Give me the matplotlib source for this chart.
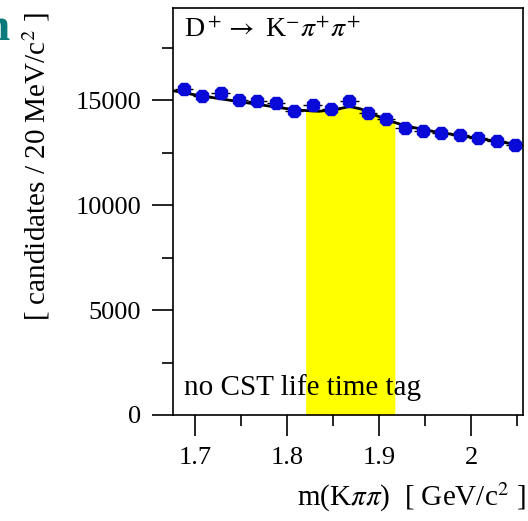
import numpy as np
import matplotlib
matplotlib.use('Agg')
import matplotlib.pyplot as plt

plt.rcParams['font.family'] = ['Liberation Serif', 'DejaVu Serif']
plt.rcParams['mathtext.fontset'] = 'stix'

# bin centres [GeV/c^2] and candidates per 20 MeV/c^2
mass = [1.6875, 1.7075, 1.7275, 1.7475, 1.7675, 1.7875, 1.8075, 1.8275, 1.8475, 1.8675,
        1.8875, 1.9075, 1.9275, 1.9475, 1.9675, 1.9875, 2.0075, 2.0275, 2.0475]
counts = [15530, 15210, 15320, 15030, 14970, 14880, 14490, 14760, 14570, 14950,
          14410, 14120, 13680, 13520, 13450, 13330, 13200, 13040, 12880]
err = [125, 123, 124, 123, 122, 122, 120, 121, 121, 122,
       120, 119, 117, 116, 116, 115, 115, 114, 114]

# fit curve
fit_x = [1.676, 1.70, 1.74, 1.78, 1.81, 1.835, 1.855, 1.868, 1.88, 1.895,
         1.91, 1.93, 1.96, 2.0, 2.03, 2.056]
fit_y = [15450, 15250, 14980, 14720, 14530, 14470, 14580, 14700, 14580, 14300,
         14030, 13760, 13500, 13230, 13020, 12850]

# signal window
win_lo, win_hi = 1.82, 1.917

fig = plt.figure(figsize=(5.28, 5.21), dpi=100)
ax = fig.add_axes([0.328, 0.2035, 0.662, 0.7815])

fx = np.linspace(win_lo, win_hi, 60)
ax.fill_between(fx, 0, np.interp(fx, fit_x, fit_y), color='#ffff00', lw=0, zorder=1)
ax.plot(fit_x, fit_y, color='black', lw=2, zorder=2)
ax.errorbar(mass, counts, xerr=0.01, yerr=err, fmt='8', color='#0a0ad8', ms=10,
            mec='#0a0ad8', ecolor='black', elinewidth=1, capsize=0, zorder=3)

ax.set_xlim(1.676, 2.056)
ax.set_ylim(0, 19400)
ax.set_xticks([1.7, 1.8, 1.9, 2.0])
ax.set_xticklabels(['1.7', '1.8', '1.9', '2'])
ax.set_xticks([1.75, 1.85, 1.95, 2.05], minor=True)
ax.set_yticks([0, 5000, 10000, 15000])
ax.set_yticks([2500, 7500, 12500, 17500], minor=True)
ax.tick_params(which='major', direction='out', length=15, width=1.2, labelsize=19, pad=8)
ax.tick_params(which='minor', direction='out', length=8, width=1.2)
for s in ax.spines.values():
    s.set_linewidth(1.2)

ax.text(0.03, 0.975, r'D$^+\rightarrow$ K$^{-}\pi^{+}\pi^{+}$', transform=ax.transAxes,
        fontsize=20, va='top', ha='left')
ax.text(0.03, 0.035, 'no CST life time tag', transform=ax.transAxes,
        fontsize=21, va='bottom', ha='left')

fig.text(0.068, 0.68, r'[ candidates / 20 MeV/c$^2$ ]', rotation=90,
         fontsize=21, ha='center', va='center')
fig.text(0.995, 0.045, r'm(K$\pi\pi$)  [ GeV/c$^2$ ]', fontsize=21,
         ha='right', va='center')
fig.text(-0.03, 0.945, 'n', fontsize=34, color='#0a7a7a', fontweight='bold',
         ha='left', va='center')

fig.savefig('out.png', dpi=100)
